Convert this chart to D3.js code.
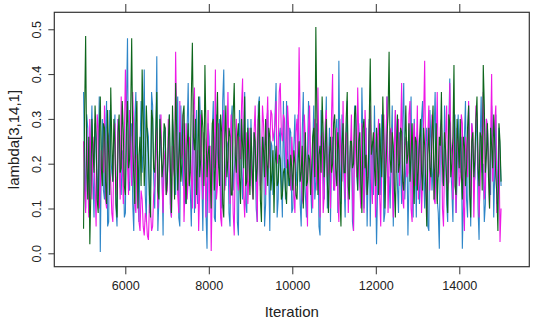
<!DOCTYPE html>
<html><head><meta charset="utf-8">
<script src="https://cdn.jsdelivr.net/npm/d3@7"></script>
<style>html,body{margin:0;padding:0;background:#fff}svg{display:block}</style>
</head><body>
<div id="chart"></div>
<script>
const iterStart = 5000, iterEnd = 15000;
const xTicks = [6000, 8000, 10000, 12000, 14000];
const yTicks = [0.0, 0.1, 0.2, 0.3, 0.4, 0.5];
const chainColors = ["#2e86c8", "#ee18e6", "#0d661c"];
// each chain is read as two interleaved sample sets (even / odd draws)
const chain1Even = [.36,.10,.28,.15,.33,.08,.25,.19,.003,.30,.12,.34,.07,.22,.16,.31,.06,.27,.13,.21,
.09,.48,.14,.29,.05,.36,.11,.24,.18,.41,.07,.26,.15,.33,.10,.44,.12,.22,.04,.28,
.17,.31,.08,.25,.13,.35,.06,.21,.29,.11,.38,.14,.23,.09,.32,.16,.27,.05,.20,.01,
.26,.13,.34,.07,.22,.30,.10,.41,.15,.24,.06,.33,.18,.28,.04,.25,.12,.36,.09,.21,
.30,.14,.23,.07,.35,.17,.26,.11,.32,.05,.24,.19,.38,.12,.28,.08,.21,.34,.15,.27,
.10,.31,.18,.25,.06,.36,.13,.22,.29,.09,.33,.16,.24,.04,.27,.12,.35,.19,.07,.26,
.15,.30,.43,.11,.23,.08,.34,.17,.26,.05,.31,.14,.22,.37,.10,.28,.18,.06,.25,.33,
.02,.21,.13,.29,.09,.35,.17,.24,.06,.32,.15,.27,.11,.38,.19,.04,.26,.14,.30,.08,
.23,.16,.34,.10,.28,.05,.25,.19,.36,.12,.01,.29,.15,.22,.07,.39,.14,.27,.09,.31,
.18,.01,.26,.12,.33,.06,.24,.17,.30,.03,.35,.20,.11,.28,.15,.33,.08,.31,.19,.23];
const chain1Odd = [.20,.31,.09,.24,.17,.29,.12,.35,.21,.14,.27,.06,.32,.18,.25,.10,.30,.15,.23,.08,
.33,.16,.26,.11,.30,.19,.07,.34,.22,.13,.28,.09,.36,.17,.24,.05,.31,.19,.27,.14,
.22,.10,.30,.18,.26,.08,.33,.15,.12,.28,.19,.06,.31,.24,.11,.35,.17,.22,.09,.29,
.16,.27,.08,.31,.19,.12,.34,.20,.25,.09,.29,.14,.23,.07,.32,.18,.26,.11,.30,.15,
.19,.27,.10,.33,.15,.24,.06,.29,.18,.25,.13,.31,.08,.26,.17,.34,.12,.22,.28,.09,
.24,.15,.31,.11,.27,.18,.08,.34,.16,.23,.12,.29,.06,.32,.19,.25,.10,.28,.21,.14,
.27,.09,.20,.31,.16,.26,.12,.24,.07,.33,.18,.29,.11,.25,.15,.06,.30,.22,.13,.19,
.14,.28,.31,.07,.24,.17,.10,.33,.20,.26,.09,.19,.30,.12,.25,.16,.35,.08,.22,.27,
.11,.30,.18,.25,.06,.32,.14,.27,.20,.09,.24,.16,.33,.11,.28,.19,.07,.31,.17,.22,
.26,.12,.34,.08,.21,.29,.15,.27,.10,.25,.18,.07,.30,.22,.13,.26,.19,.11,.28,.15];
const chain2Even = [.25,.09,.17,.30,.12,.22,.06,.28,.14,.19,.33,.10,.26,.16,.07,.29,.13,.24,.35,.11,
.41,.20,.32,.15,.27,.09,.18,.05,.12,.04,.08,.03,.10,.06,.15,.28,.18,.31,.09,.23,
.14,.26,.08,.19,.45,.13,.34,.22,.07,.29,.16,.24,.10,.37,.18,.05,.31,.12,.25,.20,
.09,.005,.28,.41,.15,.23,.06,.32,.18,.36,.11,.25,.04,.30,.14,.21,.39,.08,.27,.17,
.22,.12,.33,.07,.26,.18,.29,.13,.35,.24,.31,.27,.34,.22,.38,.25,.30,.19,.28,.14,
.21,.09,.30,.46,.17,.11,.25,.06,.33,.15,.24,.19,.37,.08,.27,.13,.32,.18,.10,.40,
.14,.28,.07,.22,.34,.12,.26,.18,.31,.05,.23,.37,.15,.29,.09,.25,.20,.33,.11,.27,
.17,.30,.06,.24,.13,.35,.19,.28,.08,.32,.22,.15,.38,.10,.26,.18,.34,.07,.29,.21,
.12,.27,.16,.43,.08,.33,.20,.25,.11,.36,.18,.30,.06,.26,.14,.38,.22,.31,.09,.24,
.17,.29,.05,.23,.34,.12,.27,.19,.31,.08,.25,.36,.15,.28,.10,.40,.21,.33,.14,.025];
const chain2Odd = [.14,.28,.08,.21,.26,.15,.31,.10,.23,.18,.12,.27,.19,.09,.24,.17,.30,.12,.20,.26,
.29,.13,.24,.36,.11,.22,.07,.14,.06,.09,.04,.11,.05,.13,.22,.10,.26,.16,.21,.13,
.30,.11,.24,.17,.28,.09,.21,.31,.15,.12,.26,.18,.33,.10,.23,.14,.20,.27,.08,.32,
.24,.15,.19,.12,.29,.08,.27,.14,.25,.20,.31,.09,.22,.16,.26,.33,.13,.19,.11,.28,
.15,.27,.20,.30,.14,.33,.22,.28,.19,.32,.25,.29,.20,.36,.27,.31,.23,.33,.18,.26,
.13,.27,.22,.29,.12,.31,.16,.28,.20,.10,.30,.14,.22,.26,.09,.29,.17,.24,.31,.15,
.24,.12,.30,.16,.20,.27,.09,.23,.14,.28,.17,.26,.10,.19,.32,.13,.27,.16,.24,.08,
.26,.13,.20,.31,.24,.09,.27,.15,.22,.18,.30,.27,.12,.24,.17,.31,.10,.25,.15,.33,
.23,.09,.30,.19,.26,.14,.31,.12,.24,.17,.28,.10,.21,.33,.16,.25,.12,.19,.28,.15,
.31,.11,.26,.17,.20,.29,.08,.33,.22,.16,.27,.12,.30,.19,.25,.16,.29,.09,.26,.10];
const chain3Even = [.055,.485,.12,.02,.30,.18,.26,.09,.35,.15,.28,.11,.22,.37,.16,.24,.08,.31,.19,.27,
.13,.34,.21,.48,.17,.29,.10,.26,.41,.15,.33,.22,.08,.30,.18,.36,.12,.25,.20,.28,
.16,.31,.09,.24,.38,.14,.27,.20,.33,.11,.29,.18,.47,.23,.13,.35,.21,.28,.42,.17,
.24,.10,.30,.19,.36,.15,.27,.08,.33,.21,.26,.13,.38,.18,.29,.11,.24,.35,.16,.22,
.28,.12,.25,.19,.34,.07,.23,.30,.15,.26,.18,.09,.24,.16,.21,.13,.19,.11,.17,.22,
.14,.20,.12,.25,.18,.10,.27,.16,.21,.19,.28,.505,.13,.24,.35,.17,.30,.09,.26,.20,
.31,.15,.23,.06,.29,.18,.36,.12,.25,.20,.33,.14,.27,.09,.30,.22,.17,.435,.24,.19,
.28,.13,.22,.35,.10,.26,.45,.18,.24,.08,.31,.20,.27,.14,.33,.22,.16,.29,.11,.25,
.19,.30,.14,.24,.06,.28,.17,.33,.21,.11,.26,.36,.15,.23,.09,.29,.20,.42,.13,.25,
.30,.12,.24,.19,.33,.08,.27,.21,.35,.15,.26,.42,.18,.29,.10,.24,.31,.17,.05,.25];
const chain3Odd = [.31,.20,.26,.14,.23,.33,.12,.27,.19,.29,.16,.32,.13,.25,.30,.11,.27,.18,.34,.15,
.28,.19,.31,.25,.11,.34,.22,.15,.29,.20,.26,.13,.32,.19,.27,.14,.30,.17,.29,.13,
.25,.19,.33,.12,.27,.21,.16,.31,.19,.24,.15,.35,.26,.30,.20,.17,.32,.15,.27,.22,
.18,.29,.14,.27,.20,.31,.11,.25,.17,.28,.13,.31,.22,.26,.17,.30,.19,.15,.28,.13,
.20,.27,.16,.30,.12,.26,.17,.21,.28,.14,.23,.20,.15,.22,.12,.18,.14,.21,.15,.19,
.23,.13,.20,.16,.24,.19,.15,.22,.13,.26,.17,.30,.22,.18,.27,.24,.16,.22,.18,.29,
.19,.27,.13,.24,.18,.30,.15,.25,.19,.31,.22,.25,.16,.28,.19,.13,.29,.22,.27,.15,
.20,.29,.17,.25,.19,.31,.21,.27,.15,.23,.18,.28,.16,.24,.20,.29,.22,.18,.26,.14,
.25,.18,.28,.15,.22,.19,.27,.12,.29,.18,.24,.20,.27,.16,.31,.17,.26,.15,.30,.19,
.18,.26,.15,.28,.13,.25,.17,.30,.19,.27,.14,.33,.22,.17,.28,.19,.24,.13,.29,.16];
const chains = [[chain1Even, chain1Odd], [chain2Even, chain2Odd], [chain3Even, chain3Odd]]
  .map(([a, b]) => d3.merge(a.map((v, i) => [v, b[i]])));
const xLabel = "Iteration", yLabel = "lambda[3,14,1]";

const W = 540, H = 323;
const svg = d3.select("#chart").append("svg").attr("width", W).attr("height", H)
  .style("font-family", "'Liberation Sans', Arial, sans-serif");
const L = 54.3, R = 529.3, T = 12.3, B = 266.7;
const x = d3.scaleLinear().domain([4299.4, 15676.6]).range([L, R]);
const y = d3.scaleLinear().domain([-0.0299, 0.5379]).range([B, T]);

const line = d3.line().x(d => x(d[0])).y(d => y(d[1]));
chains.forEach((c, ci) => {
  const n = c.length;
  const pts = c.map((v, i) => [iterStart + i * (iterEnd - iterStart) / (n - 1), v]);
  svg.append("path").datum(pts).attr("d", line)
    .attr("fill", "none").attr("stroke", chainColors[ci]).attr("stroke-width", 1.1);
});

const axStyle = g => {
  g.select(".domain").remove();
  g.selectAll(".tick line").attr("stroke", "#333").attr("stroke-width", 1);
  g.selectAll(".tick text").attr("fill", "#222").style("font-size", "12.6px")
    .style("font-family", "'Liberation Sans', Arial, sans-serif");
};
svg.append("g").attr("transform", `translate(0,${B})`)
  .call(d3.axisBottom(x).tickValues(xTicks).tickSize(7.6).tickPadding(7).tickFormat(d3.format("d")))
  .call(axStyle);
svg.append("g").attr("transform", `translate(0,${T})`)
  .call(d3.axisTop(x).tickValues(xTicks).tickSize(8.3).tickFormat(""))
  .call(axStyle);
const gy = svg.append("g").attr("transform", `translate(${L},0)`)
  .call(d3.axisLeft(y).tickValues(yTicks).tickSize(6).tickFormat(d3.format(".1f")))
  .call(axStyle);
gy.selectAll(".tick text").attr("x", null).attr("dy", null)
  .attr("transform", "translate(-17,0) rotate(-90)")
  .attr("text-anchor", "middle").attr("dominant-baseline", "central");

svg.append("rect").attr("x", L).attr("y", T).attr("width", R - L).attr("height", B - T)
  .attr("fill", "none").attr("stroke", "#333").attr("stroke-width", 1.2);

svg.append("text").attr("x", (L + R) / 2).attr("y", 311.7).attr("text-anchor", "middle")
  .attr("dominant-baseline", "central").attr("fill", "#222").style("font-size", "15px").text(xLabel);
svg.append("text").attr("transform", `translate(13.3,${(T + B) / 2}) rotate(-90)`)
  .attr("text-anchor", "middle").attr("dominant-baseline", "central")
  .attr("fill", "#222").style("font-size", "15px").text(yLabel);
</script>
</body></html>
